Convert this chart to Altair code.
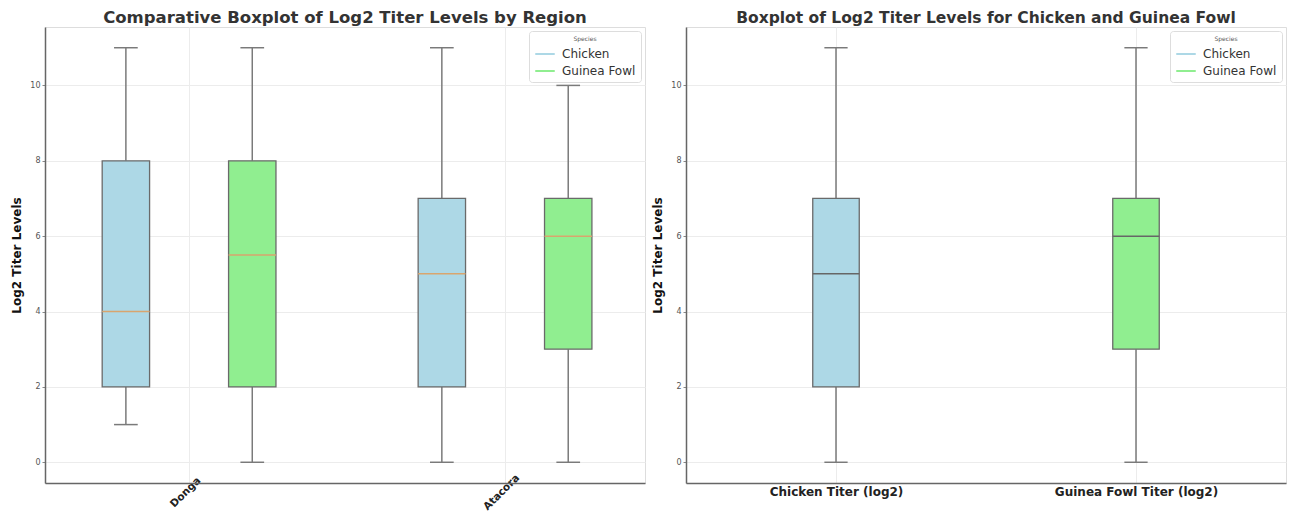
import altair as alt
import pandas as pd

# ---------------- data ----------------
region_order = ["Donga", "Atacora"]
regions = ["Donga", "Donga", "Atacora", "Atacora"]
region_species = ["Chicken", "Guinea Fowl", "Chicken", "Guinea Fowl"]
region_low = [1, 0, 0, 0]
region_q1 = [2, 2, 2, 3]
region_median = [4, 5.5, 5, 6]
region_q3 = [8, 8, 7, 7]
region_high = [11, 11, 11, 10]

overall_labels = ["Chicken Titer (log2)", "Guinea Fowl Titer (log2)"]
overall_species = ["Chicken", "Guinea Fowl"]
overall_low = [0, 0]
overall_q1 = [2, 3]
overall_median = [5, 6]
overall_q3 = [7, 7]
overall_high = [11, 11]

species_order = ["Chicken", "Guinea Fowl"]
species_colors = ["#add8e6", "#90ee90"]
y_ticks = [0, 2, 4, 6, 8, 10]

# ---------------- tables ----------------
def make_table(positions, species, low, q1, med, q3, high, box_w):
    rows = []
    for p, s, lo, a, m, b, hi in zip(positions, species, low, q1, med, q3, high):
        rows.append(dict(pos=p, species=s, low=lo, q1=a, median=m, q3=b, high=hi,
                         fill_color=species_colors[species_order.index(s)],
                         box_l=p - box_w / 2, box_r=p + box_w / 2,
                         cap_l=p - box_w / 4, cap_r=p + box_w / 4))
    return pd.DataFrame(rows)

left_pos = [region_order.index(r) + (-0.2 if s == "Chicken" else 0.2)
            for r, s in zip(regions, region_species)]
left_df = make_table(left_pos, region_species, region_low, region_q1,
                     region_median, region_q3, region_high, 0.15)

right_pos = [i + 1 for i in range(len(overall_labels))]
right_df = make_table(right_pos, overall_species, overall_low, overall_q1,
                      overall_median, overall_q3, overall_high, 0.155)

species_scale = alt.Scale(domain=species_order, range=species_colors)
y_scale = alt.Scale(domain=[-0.55, 11.55], nice=False, zero=False)

y_axis = alt.Axis(values=y_ticks, title="Log2 Titer Levels", titleFontSize=12,
                  titleFontWeight="bold", titleColor="#111", titlePadding=6,
                  labelFontSize=8, labelColor="#555", tickSize=3, tickColor="#888",
                  labelPadding=2, grid=True, gridColor="#ececec",
                  domainColor="#666", domainWidth=1.5)


def panel(df, x_domain, tick_vals, label_expr, label_angle, label_font, label_pad,
          label_align, label_baseline, label_offset, median_color, title, title_size):
    x_scale = alt.Scale(domain=x_domain, nice=False, zero=False)
    x_axis = alt.Axis(values=tick_vals, labelExpr=label_expr, title=None,
                      labelAngle=label_angle, labelFontSize=label_font,
                      labelFontWeight="bold", labelColor="#222", labelPadding=label_pad,
                      labelAlign=label_align, labelBaseline=label_baseline,
                      labelOffset=label_offset,
                      labelOverlap=False, labelFlush=False, ticks=False,
                      grid=True, gridColor="#ececec",
                      domainColor="#666", domainWidth=1.5)

    def X(field):
        return alt.X(field, type="quantitative", scale=x_scale, axis=x_axis)

    def Y(field):
        return alt.Y(field, type="quantitative", scale=y_scale, axis=y_axis)

    base = alt.Chart(df)
    whisk_lo = base.mark_rule(color="#7a7a7a", strokeWidth=1.5).encode(
        x=X("pos"), y=Y("low"), y2="q1")
    whisk_hi = base.mark_rule(color="#7a7a7a", strokeWidth=1.5).encode(
        x=X("pos"), y=Y("q3"), y2="high")
    cap_lo = base.mark_rule(color="#7a7a7a", strokeWidth=1.5).encode(
        x=X("cap_l"), x2="cap_r", y=Y("low"))
    cap_hi = base.mark_rule(color="#7a7a7a", strokeWidth=1.5).encode(
        x=X("cap_l"), x2="cap_r", y=Y("high"))
    box = base.mark_rect(stroke="#6a6a6a", strokeWidth=1.3).encode(
        x=X("box_l"), x2="box_r", y=Y("q1"), y2="q3",
        fill=alt.Fill("fill_color:N", scale=None))
    med = base.mark_rule(color=median_color, strokeWidth=1.5).encode(
        x=X("box_l"), x2="box_r", y=Y("median"))
    legend_layer = base.mark_line(strokeWidth=2).encode(
        x=X("pos"), y=Y("median"), detail="pos:Q",
        stroke=alt.Stroke("species:N", scale=species_scale,
                          legend=alt.Legend(title="Species", orient="top-right",
                                            offset=4, padding=5,
                                            fillColor="white", strokeColor="#dddddd",
                                            cornerRadius=3,
                                            titleFontSize=6, titleFontWeight="normal",
                                            titleColor="#555", titleAnchor="middle",
                                            titlePadding=1,
                                            labelFontSize=12, labelColor="#333",
                                            labelOffset=6,
                                            symbolType="stroke", symbolSize=380,
                                            symbolStrokeWidth=2, rowPadding=0)))
    return alt.layer(whisk_lo, whisk_hi, cap_lo, cap_hi, box, med, legend_layer).properties(
        width=600, height=456,
        title=alt.TitleParams(title, fontSize=title_size, fontWeight="bold", color="#333",
                              anchor="middle", offset=1))


left_expr = "[" + ",".join("'" + r + "'" for r in region_order) + "][datum.value]"
right_expr = "[" + ",".join("'" + r + "'" for r in overall_labels) + "][datum.value - 1]"

left = panel(left_df, [-0.456, 1.443], list(range(len(region_order))), left_expr,
             -45, 10.5, 9, "center", "middle", -4, "#d9a56e",
             "Comparative Boxplot of Log2 Titer Levels by Region", 16.5)
right = panel(right_df, [0.5, 2.5], right_pos, right_expr,
              0, 12, 3, "center", "top", 0, "#666666",
              "Boxplot of Log2 Titer Levels for Chicken and Guinea Fowl", 15.5)

chart = alt.hconcat(left, right, spacing=5).resolve_scale(
    stroke="independent", x="independent", y="independent"
).resolve_legend(stroke="independent").properties(
    padding={"left": 2, "top": 1, "right": 0, "bottom": 0}
).configure_view(stroke=None).configure(font="DejaVu Sans")

chart.save("out.html", embed_options={"renderer": "svg", "actions": False})
